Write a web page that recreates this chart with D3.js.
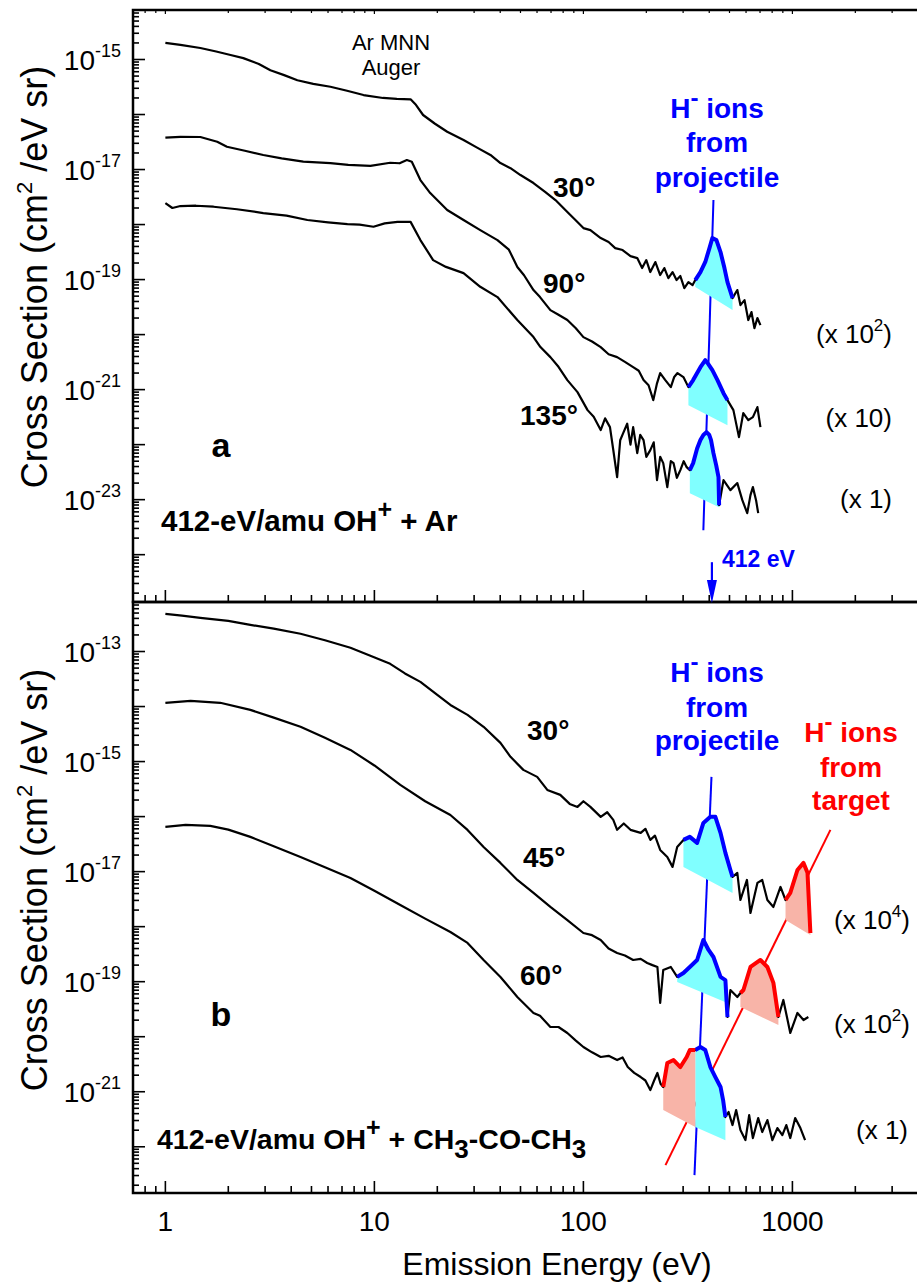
<!DOCTYPE html>
<html><head><meta charset="utf-8">
<script src="https://cdnjs.cloudflare.com/ajax/libs/d3/7.8.5/d3.min.js"></script>
<style>body{margin:0;background:#fff}text{font-family:"Liberation Sans",Arial,Helvetica,sans-serif}</style>
</head><body><svg id="c" width="917" height="1286"></svg>
<script>
// ---------------- DATA (energy eV, cross section cm^2/eV sr) ----------------
// Panel a: OH+ + Ar
const a30 = [[1.0,2.0e-15],[1.18,1.85e-15],[1.47,1.62e-15],[1.75,1.4e-15],[2.05,1.21e-15],[2.36,1.06e-15],[2.8,8.3e-16],[3.18,6.4e-16],[3.7,5.2e-16],[4.28,4.2e-16],[5.1,3.6e-16],[6.16,3.2e-16],[7.4,2.7e-16],[8.87,2.26e-16],[11.0,2.0e-16],[12.8,1.92e-16],[14.9,1.89e-16],[15.8,1.5e-16],[17.1,9.8e-17],[19.5,6.8e-17],[22.3,4.87e-17],[26.7,3.44e-17],[31,2.5e-17],[35.9,1.84e-17],[40.1,1.31e-17],[44.8,1.06e-17],[50.0,7.94e-18],[57.7,5.69e-18],[65.8,3.9e-18],[73.5,2.79e-18],[83.8,1.69e-18],[91.6,1.21e-18],[100,8.63e-19],[108,7.94e-19],[121,5.69e-19],[132,4.81e-19],[142,3.74e-19],[154,3.44e-19],[168,2.67e-19],[181,2.46e-19],[191,1.62e-19],[200,2.26e-19],[209,1.37e-19],[221,2.08e-19],[233,1.21e-19],[244,1.62e-19],[255,1.06e-19],[267,1.37e-19],[279,9.8e-20],[291,1.16e-19],[304,7.0e-20],[318,9.0e-20],[333,7.94e-20],[343,9.8e-20],[363,1.37e-19],[383,2.09e-19],[401,3.74e-19],[414,5.69e-19],[433,5.22e-19],[453,3.16e-19],[473,1.62e-19],[489,9.0e-20],[517,4.61e-20],[545,6.45e-20],[564,3.44e-20],[590,4.24e-20],[615,1.84e-20],[637,2.57e-20],[658,1.31e-20],[680,2.0e-20],[703,1.49e-20]];
const a90 = [[1.0,3.79e-17],[1.18,3.94e-17],[1.47,3.9e-17],[1.77,3.2e-17],[1.97,2.6e-17],[2.4,2.2e-17],[2.94,1.84e-17],[3.6,1.6e-17],[4.57,1.39e-17],[6.16,1.31e-17],[7.5,1.22e-17],[9.57,1.17e-17],[11.9,1.33e-17],[13.2,1.3e-17],[14.3,1.49e-17],[15.1,1.39e-17],[16.6,6.44e-18],[18.5,3.74e-18],[22.3,1.84e-18],[26.7,1.21e-18],[32.1,7.94e-19],[38.8,5.22e-19],[44,3.5e-19],[48.3,1.69e-19],[52,1.2e-19],[57.7,6.44e-20],[62,4.8e-20],[69.5,2.79e-20],[76,2.3e-20],[83.8,1.84e-20],[92,1.3e-20],[100,9.0e-21],[110,7.5e-21],[121,5.93e-21],[132,4.4e-21],[145,3.9e-21],[158,3.2e-21],[173,2.56e-21],[184,2.2e-21],[194,1.49e-21],[205,1.2e-21],[216,6.44e-22],[225,1.3e-21],[233,2.0e-21],[246,1.5e-21],[262,1.11e-21],[272,1.7e-21],[282,2.0e-21],[301,1.69e-21],[318,1.11e-21],[335,1.49e-21],[363,2.56e-21],[383,3.44e-21],[396,2.91e-21],[414,2.26e-21],[438,1.49e-21],[468,8.63e-22],[489,6.44e-22],[522,4.24e-22],[555,1.37e-22],[582,3.74e-22],[615,2.79e-22],[647,3.16e-22],[680,4.81e-22],[703,2.08e-22]];
const a135 = [[1.0,2.46e-18],[1.08,2.0e-18],[1.18,2.17e-18],[1.4,2.2e-18],[1.7,2.11e-18],[2.2,1.9e-18],[2.94,1.62e-18],[3.8,1.45e-18],[4.78,1.21e-18],[6,1.1e-18],[7.43,1.02e-18],[8.5,1.0e-18],[9.9,9.12e-19],[11.2,1.05e-18],[12.9,1.12e-18],[14.9,1.12e-18],[16.6,5.22e-19],[19.1,2.26e-19],[22,1.7e-19],[26.7,1.31e-19],[32.1,7.4e-20],[38.8,4.81e-20],[48.3,1.84e-20],[57.7,9.0e-21],[62.3,5.93e-21],[69.5,3.9e-21],[76,2.6e-21],[83.8,1.49e-21],[93.7,9.0e-22],[104.7,4.24e-22],[112,3.2e-22],[121,1.84e-22],[127,3.0e-22],[134,2.08e-22],[139,8e-23],[145,2.56e-23],[150,1.2e-22],[155,1.62e-22],[162,2.4e-22],[168,1.0e-22],[173,2.08e-22],[181,7.0e-23],[187,1.5e-22],[194,1.21e-22],[200,6e-23],[209,7.94e-23],[217,1.1e-22],[225,2.26e-23],[233,6e-23],[241,4.61e-23],[252,1.69e-23],[262,5e-23],[270,4.61e-23],[280,2.5e-23],[291,3.44e-23],[302,5.0e-23],[312,3.9e-23],[323,3.44e-23],[335,4.61e-23],[350,8.5e-23],[363,1.21e-22],[375,1.5e-22],[388,1.69e-22],[400,1.5e-22],[408,1.21e-22],[419,7.0e-23],[432,4.2e-23],[443,2.56e-23],[446,7.94e-24],[468,2.26e-23],[505,1.49e-23],[545,2.0e-23],[576,9.8e-24],[608,5.69e-24],[630,1.21e-23],[647,1.69e-23],[670,9.8e-24],[686,5.69e-24]];
// Panel b: OH+ + CH3-CO-CH3
const b30 = [[1.0,4.84e-13],[1.2,4.5e-13],[1.47,4.1e-13],[2.0,3.6e-13],[2.55,3.05e-13],[3.3,2.6e-13],[4.43,2.1e-13],[5.8,1.6e-13],[7.68,1.17e-13],[9.5,8.5e-14],[11.9,5.97e-14],[14,4.0e-14],[16.6,2.81e-14],[19.5,1.75e-14],[23.1,1.07e-14],[27.9,7.06e-15],[33.3,4.28e-15],[40.1,2.19e-15],[44.8,1.22e-15],[51.6,7.06e-16],[60.1,5.27e-16],[67.2,3.05e-16],[77.5,2.48e-16],[86,1.7e-16],[93.7,1.5e-16],[100,1.9e-16],[108,1.5e-16],[121,9.9e-17],[130,1.2e-16],[139,8.7e-17],[145,5.75e-17],[156,7.5e-17],[168,5.75e-17],[188,5.06e-17],[198,6e-17],[209,3.77e-17],[220,4.5e-17],[233,2.48e-17],[252,1.85e-17],[267,1.22e-17],[281,2.81e-17],[301,3.77e-17],[323,4.28e-17],[350,3.33e-17],[375,7.67e-17],[405,9.9e-17],[428,9.9e-17],[453,5.06e-17],[478,2.19e-17],[505,1.07e-17],[517,8.0e-18],[545,9.5e-18],[564,3.05e-18],[606,7.06e-18],[630,1.77e-18],[680,6.24e-18],[717,7.06e-18],[759,3.05e-18],[811,2.28e-18],[877,5.27e-18],[927,3.05e-18],[977,4.1e-18],[1057,1.07e-17],[1130,1.44e-17],[1181,9.5e-18],[1219,7.67e-19]];
const b45 = [[1.0,1.17e-14],[1.32,1.27e-14],[1.83,1.17e-14],[2.55,8.7e-15],[3.3,6.3e-15],[4.43,4.28e-15],[5.8,2.7e-15],[7.68,1.63e-15],[10,8.5e-16],[13.3,3.77e-16],[17.5,1.9e-16],[23.1,1.07e-16],[27.9,5.73e-17],[33.3,2.81e-17],[40.1,1.44e-17],[48.3,7.06e-18],[57.7,4.1e-18],[69.5,2.28e-18],[83.8,1.32e-18],[100,7.67e-19],[110,7.0e-19],[121,5.73e-19],[132,4.0e-19],[145,3.33e-19],[158,3.0e-19],[173,2.48e-19],[188,2.6e-19],[202,2.19e-19],[214,2.0e-19],[226,1.85e-19],[233,4.1e-20],[241,1.63e-19],[262,1.85e-19],[281,1.22e-19],[301,1.44e-19],[323,1.85e-19],[350,2.48e-19],[375,5.73e-19],[397,3.77e-19],[419,2.81e-19],[453,1.22e-19],[478,1.07e-19],[489,2.28e-20],[505,7.06e-20],[545,5.27e-20],[564,6.24e-20],[583,7.06e-20],[630,1.85e-19],[703,2.48e-19],[759,1.85e-19],[811,9.5e-20],[857,2.28e-20],[905,4.65e-20],[977,1.17e-20],[1057,2.7e-20],[1130,2.01e-20],[1192,2.28e-20]];
const b60 = [[1.0,6.5e-17],[1.25,7.06e-17],[1.64,6.78e-17],[2.0,5.8e-17],[2.55,4.28e-17],[3.3,2.9e-17],[4.43,1.85e-17],[5.8,1.2e-17],[7.68,7.67e-18],[10,4.5e-18],[13.3,2.48e-18],[17.5,1.4e-18],[23.1,8.0e-19],[27.9,5.06e-19],[33.3,2.48e-19],[40.1,1.22e-19],[48.3,5.27e-20],[57.7,2.7e-20],[62,2.4e-20],[69.5,1.5e-20],[76,1.5e-20],[83.8,1.17e-20],[92,8.5e-21],[100,6.5e-21],[110,5.2e-21],[121,4.28e-21],[132,4.5e-21],[145,3.77e-21],[154,4.2e-21],[163,2.81e-21],[175,2.2e-21],[188,1.85e-21],[198,1.6e-21],[209,1.07e-21],[218,1.6e-21],[226,2.19e-21],[234,1.4e-21],[241,1.22e-21],[252,3.33e-21],[270,3.77e-21],[291,2.81e-21],[312,4.28e-21],[323,5.73e-21],[343,5.73e-21],[363,6.5e-21],[383,5.73e-21],[405,2.81e-21],[428,1.85e-21],[453,1.22e-21],[466,7.06e-22],[478,3.47e-22],[495,4.28e-22],[517,2.48e-22],[538,4.65e-22],[564,2.01e-22],[596,1.32e-22],[621,3.77e-22],[647,1.44e-22],[686,3.33e-22],[717,1.85e-22],[759,3.05e-22],[802,1.32e-22],[848,2.19e-22],[895,1.63e-22],[935,2.48e-22],[977,1.44e-22],[1031,3.33e-22],[1092,2.19e-22],[1150,1.32e-22]];

// highlighted H- peaks: [E start, E end], fill baseline [sigma at start, sigma at end]
const projPeakA30 = [343, 517],  projBaseA30 = [7.3e-20, 2.8e-20];
const projPeakA90 = [318, 489],  projBaseA90 = [5.2e-22, 2.26e-22];
const projPeakA135 = [323, 446], projBaseA135 = [1.31e-23, 7.3e-24];
const projPeakB30 = [301, 517],  projBaseB30 = [1.22e-17, 4.1e-18];
const projPeakB45 = [281, 489],  projBaseB45 = [9.9e-20, 4.1e-20];
const projPeakB60 = [343, 478],  projBaseB60 = [2.28e-22, 1.32e-22];
const targPeakB30 = [927, 1219], targBaseB30 = [1.32e-18, 7.06e-19];
const targPeakB45 = [564, 857],  targBaseB45 = [3.47e-20, 1.63e-20];
const targPeakB60 = [241, 343],  targBaseB60 = [4.65e-22, 2.28e-22];
// guide lines
const guideA = [[419, 2.79e-18], [375, 2.79e-24]];
const guideB = [[410, 5.27e-16], [340, 3.05e-23]];
const targetGuideB = [[1520, 5.75e-17], [247, 4.65e-23]];
const beamEnergy = 412, beamArrowTop = 7.3e-25;
// axis labels
const xTickLabels = [1, 10, 100, 1000];
const yLabelExpA = [-15, -17, -19, -21, -23];
const yLabelExpB = [-13, -15, -17, -19, -21];

// ---------------- SCALES ----------------
const svg = d3.select('#c');
const x = d3.scaleLog().domain([0.7, 5000]).range([133, 938.5]);
const yA = d3.scaleLog().domain([1.38e-25, 7.94e-15]).range([602, 10]);
const yB = d3.scaleLog().domain([1.445e-23, 7.94e-13]).range([1193, 602]);
const BLUE = '#0000ff', RED = '#ff0000', CYAN = '#80ffff', PINK = '#f8b4a8';

function logTicks(dom) {
  const out = [];
  const lo = Math.floor(Math.log10(dom[0])), hi = Math.ceil(Math.log10(dom[1]));
  for (let e = lo; e <= hi; e++) for (let k = 1; k <= 9; k++) {
    const v = k * Math.pow(10, e);
    if (v > dom[0] * 1.001 && v < dom[1] * 0.999) out.push({v, major: k === 1});
  }
  return out;
}

// ---------------- TEXT HELPER ----------------
function rich(g, px, py, parts, o = {}) {
  const t = g.append('text').attr('x', px).attr('y', py)
    .attr('font-size', o.size || 28).attr('font-weight', o.bold ? 'bold' : 'normal')
    .attr('fill', o.color || '#000').attr('text-anchor', o.anchor || 'start');
  if (o.transform) t.attr('transform', o.transform);
  let off = 0;
  parts.forEach(p => {
    const s = t.append('tspan').text(p.t);
    const target = p.dy || 0;
    s.attr('dy', target - off); off = target;
    if (p.size) s.attr('font-size', p.size);
  });
  return t;
}

// ---------------- AXES ----------------
const xt = logTicks(x.domain()).filter(d => x(d.v) > 135 && x(d.v) < 916);
function drawPanel(y, top, bottom, hasTopTicks) {
  const g = svg.append('g');
  const yt = logTicks(y.domain());
  g.selectAll('.yt').data(yt).enter().append('line')
    .attr('x1', 133).attr('x2', d => 133 + (d.major ? 12 : 6))
    .attr('y1', d => y(d.v)).attr('y2', d => y(d.v))
    .attr('stroke', '#000').attr('stroke-width', 1.6);
  g.selectAll('.xb').data(xt).enter().append('line')
    .attr('x1', d => x(d.v)).attr('x2', d => x(d.v))
    .attr('y1', bottom).attr('y2', d => bottom - (d.major ? 12 : 7))
    .attr('stroke', '#000').attr('stroke-width', 1.6);
  if (hasTopTicks) g.selectAll('.xt').data(xt).enter().append('line')
    .attr('x1', d => x(d.v)).attr('x2', d => x(d.v))
    .attr('y1', top).attr('y2', d => top + (d.major ? 4 : 3))
    .attr('stroke', '#000').attr('stroke-width', 1.2);
  g.append('rect').attr('x', 133).attr('y', top).attr('width', 830).attr('height', bottom - top)
    .attr('fill', 'none').attr('stroke', '#000').attr('stroke-width', 2.5);
}

// ---------------- SERIES ----------------
function peakPts(spec, rng) { return spec.filter(d => d[0] >= rng[0] && d[0] <= rng[1]); }
function drawSpectra(y, specs, peaks, guides) {
  const g = svg.append('g');
  const line = d3.line().x(d => x(d[0])).y(d => y(d[1]));
  guides.forEach(gd => g.append('path').attr('d', line(gd.pts)).attr('stroke', gd.color)
    .attr('stroke-width', 2).attr('fill', 'none'));
  peaks.forEach(p => {
    const pts = peakPts(p.spec, p.rng);
    const poly = pts.concat([[p.rng[1], p.base[1]], [p.rng[0], p.base[0]]]);
    g.append('path').attr('d', line(poly) + 'Z').attr('fill', p.fill).attr('stroke', 'none');
  });
  specs.forEach(s => g.append('path').attr('d', line(s)).attr('fill', 'none')
    .attr('stroke', '#000').attr('stroke-width', 2.2).attr('stroke-linejoin', 'round'));
  peaks.forEach(p => g.append('path').attr('d', line(peakPts(p.spec, p.rng))).attr('fill', 'none')
    .attr('stroke', p.color).attr('stroke-width', 4).attr('stroke-linejoin', 'round'));
}

drawSpectra(yA, [a30, a90, a135], [
  {spec: a30, rng: projPeakA30, base: projBaseA30, fill: CYAN, color: BLUE},
  {spec: a90, rng: projPeakA90, base: projBaseA90, fill: CYAN, color: BLUE},
  {spec: a135, rng: projPeakA135, base: projBaseA135, fill: CYAN, color: BLUE}
], [{pts: guideA, color: BLUE}]);
drawSpectra(yB, [b30, b45, b60], [
  {spec: b30, rng: projPeakB30, base: projBaseB30, fill: CYAN, color: BLUE},
  {spec: b45, rng: projPeakB45, base: projBaseB45, fill: CYAN, color: BLUE},
  {spec: b60, rng: projPeakB60, base: projBaseB60, fill: CYAN, color: BLUE},
  {spec: b30, rng: targPeakB30, base: targBaseB30, fill: PINK, color: RED},
  {spec: b45, rng: targPeakB45, base: targBaseB45, fill: PINK, color: RED},
  {spec: b60, rng: targPeakB60, base: targBaseB60, fill: PINK, color: RED}
], [{pts: guideB, color: BLUE}, {pts: targetGuideB, color: RED}]);

drawPanel(yA, 10, 602, true);
drawPanel(yB, 602, 1193, false);

// 412 eV arrow
const ax = x(beamEnergy);
svg.append('line').attr('x1', ax).attr('x2', ax).attr('y1', yA(beamArrowTop)).attr('y2', 585)
  .attr('stroke', BLUE).attr('stroke-width', 2.2);
svg.append('path').attr('d', `M${ax - 5},580L${ax + 5},580L${ax},603Z`).attr('fill', BLUE);
rich(svg, ax + 10, 567, [{t: '412 eV'}], {size: 23, bold: true, color: BLUE});

// tick labels
xTickLabels.forEach(v => rich(svg, x(v), 1231, [{t: String(v)}], {size: 28, anchor: 'middle'}));
yLabelExpA.forEach(e => rich(svg, 121, yA(Math.pow(10, e)) + 10, [{t: '10'}, {t: String(e), dy: -13, size: 18}], {anchor: 'end'}));
yLabelExpB.forEach(e => rich(svg, 121, yB(Math.pow(10, e)) + 10, [{t: '10'}, {t: String(e), dy: -13, size: 18}], {anchor: 'end'}));

// axis titles
const ttl = [{t: 'Cross Section (cm'}, {t: '2', dy: -15, size: 22}, {t: ' /eV sr)'}];
rich(svg, 0, 0, ttl, {size: 36, anchor: 'middle', transform: 'translate(47,277) rotate(-90)'});
rich(svg, 0, 0, ttl, {size: 36, anchor: 'middle', transform: 'translate(47,880) rotate(-90)'});
rich(svg, 557, 1275, [{t: 'Emission Energy (eV)'}], {size: 32, anchor: 'middle'});

// panel a annotations
rich(svg, 391, 50, [{t: 'Ar MNN'}], {size: 22, anchor: 'middle'});
rich(svg, 391, 75, [{t: 'Auger'}], {size: 22, anchor: 'middle'});
const hm = [{t: 'H'}, {t: '-', dy: -12, size: 24}, {t: ' ions'}];
[[118, hm], [152, [{t: 'from'}]], [187, [{t: 'projectile'}]]].forEach(r =>
  rich(svg, 717, r[0], r[1], {size: 28, bold: true, color: BLUE, anchor: 'middle'}));
rich(svg, 553, 197, [{t: '30°'}], {size: 28, bold: true});
rich(svg, 543, 293, [{t: '90°'}], {size: 28, bold: true});
rich(svg, 520, 425, [{t: '135°'}], {size: 28, bold: true});
rich(svg, 892, 343, [{t: '(x 10'}, {t: '2', dy: -12, size: 17}, {t: ')'}], {size: 26, anchor: 'end'});
rich(svg, 892, 427, [{t: '(x 10)'}], {size: 26, anchor: 'end'});
rich(svg, 892, 508, [{t: '(x 1)'}], {size: 26, anchor: 'end'});
rich(svg, 221, 457, [{t: 'a'}], {size: 34, bold: true, anchor: 'middle'});
rich(svg, 161, 531, [{t: '412-eV/amu OH'}, {t: '+', dy: -13, size: 25}, {t: ' + Ar'}], {size: 29.5, bold: true});

// panel b annotations
[[682, hm], [717, [{t: 'from'}]], [750, [{t: 'projectile'}]]].forEach(r =>
  rich(svg, 717, r[0], r[1], {size: 28, bold: true, color: BLUE, anchor: 'middle'}));
[[742, hm], [777, [{t: 'from'}]], [810, [{t: 'target'}]]].forEach(r =>
  rich(svg, 851, r[0], r[1], {size: 28, bold: true, color: RED, anchor: 'middle'}));
rich(svg, 527, 740, [{t: '30°'}], {size: 28, bold: true});
rich(svg, 523, 867, [{t: '45°'}], {size: 28, bold: true});
rich(svg, 520, 985, [{t: '60°'}], {size: 28, bold: true});
rich(svg, 910, 929, [{t: '(x 10'}, {t: '4', dy: -12, size: 17}, {t: ')'}], {size: 26, anchor: 'end'});
rich(svg, 910, 1033, [{t: '(x 10'}, {t: '2', dy: -12, size: 17}, {t: ')'}], {size: 26, anchor: 'end'});
rich(svg, 908, 1139, [{t: '(x 1)'}], {size: 26, anchor: 'end'});
rich(svg, 221, 1026, [{t: 'b'}], {size: 34, bold: true, anchor: 'middle'});
rich(svg, 157, 1149, [{t: '412-eV/amu OH'}, {t: '+', dy: -13, size: 25}, {t: ' + CH'}, {t: '3', dy: 9, size: 26}, {t: '-CO-CH'}, {t: '3', dy: 9, size: 26}], {size: 28.5, bold: true});
</script></body></html>
